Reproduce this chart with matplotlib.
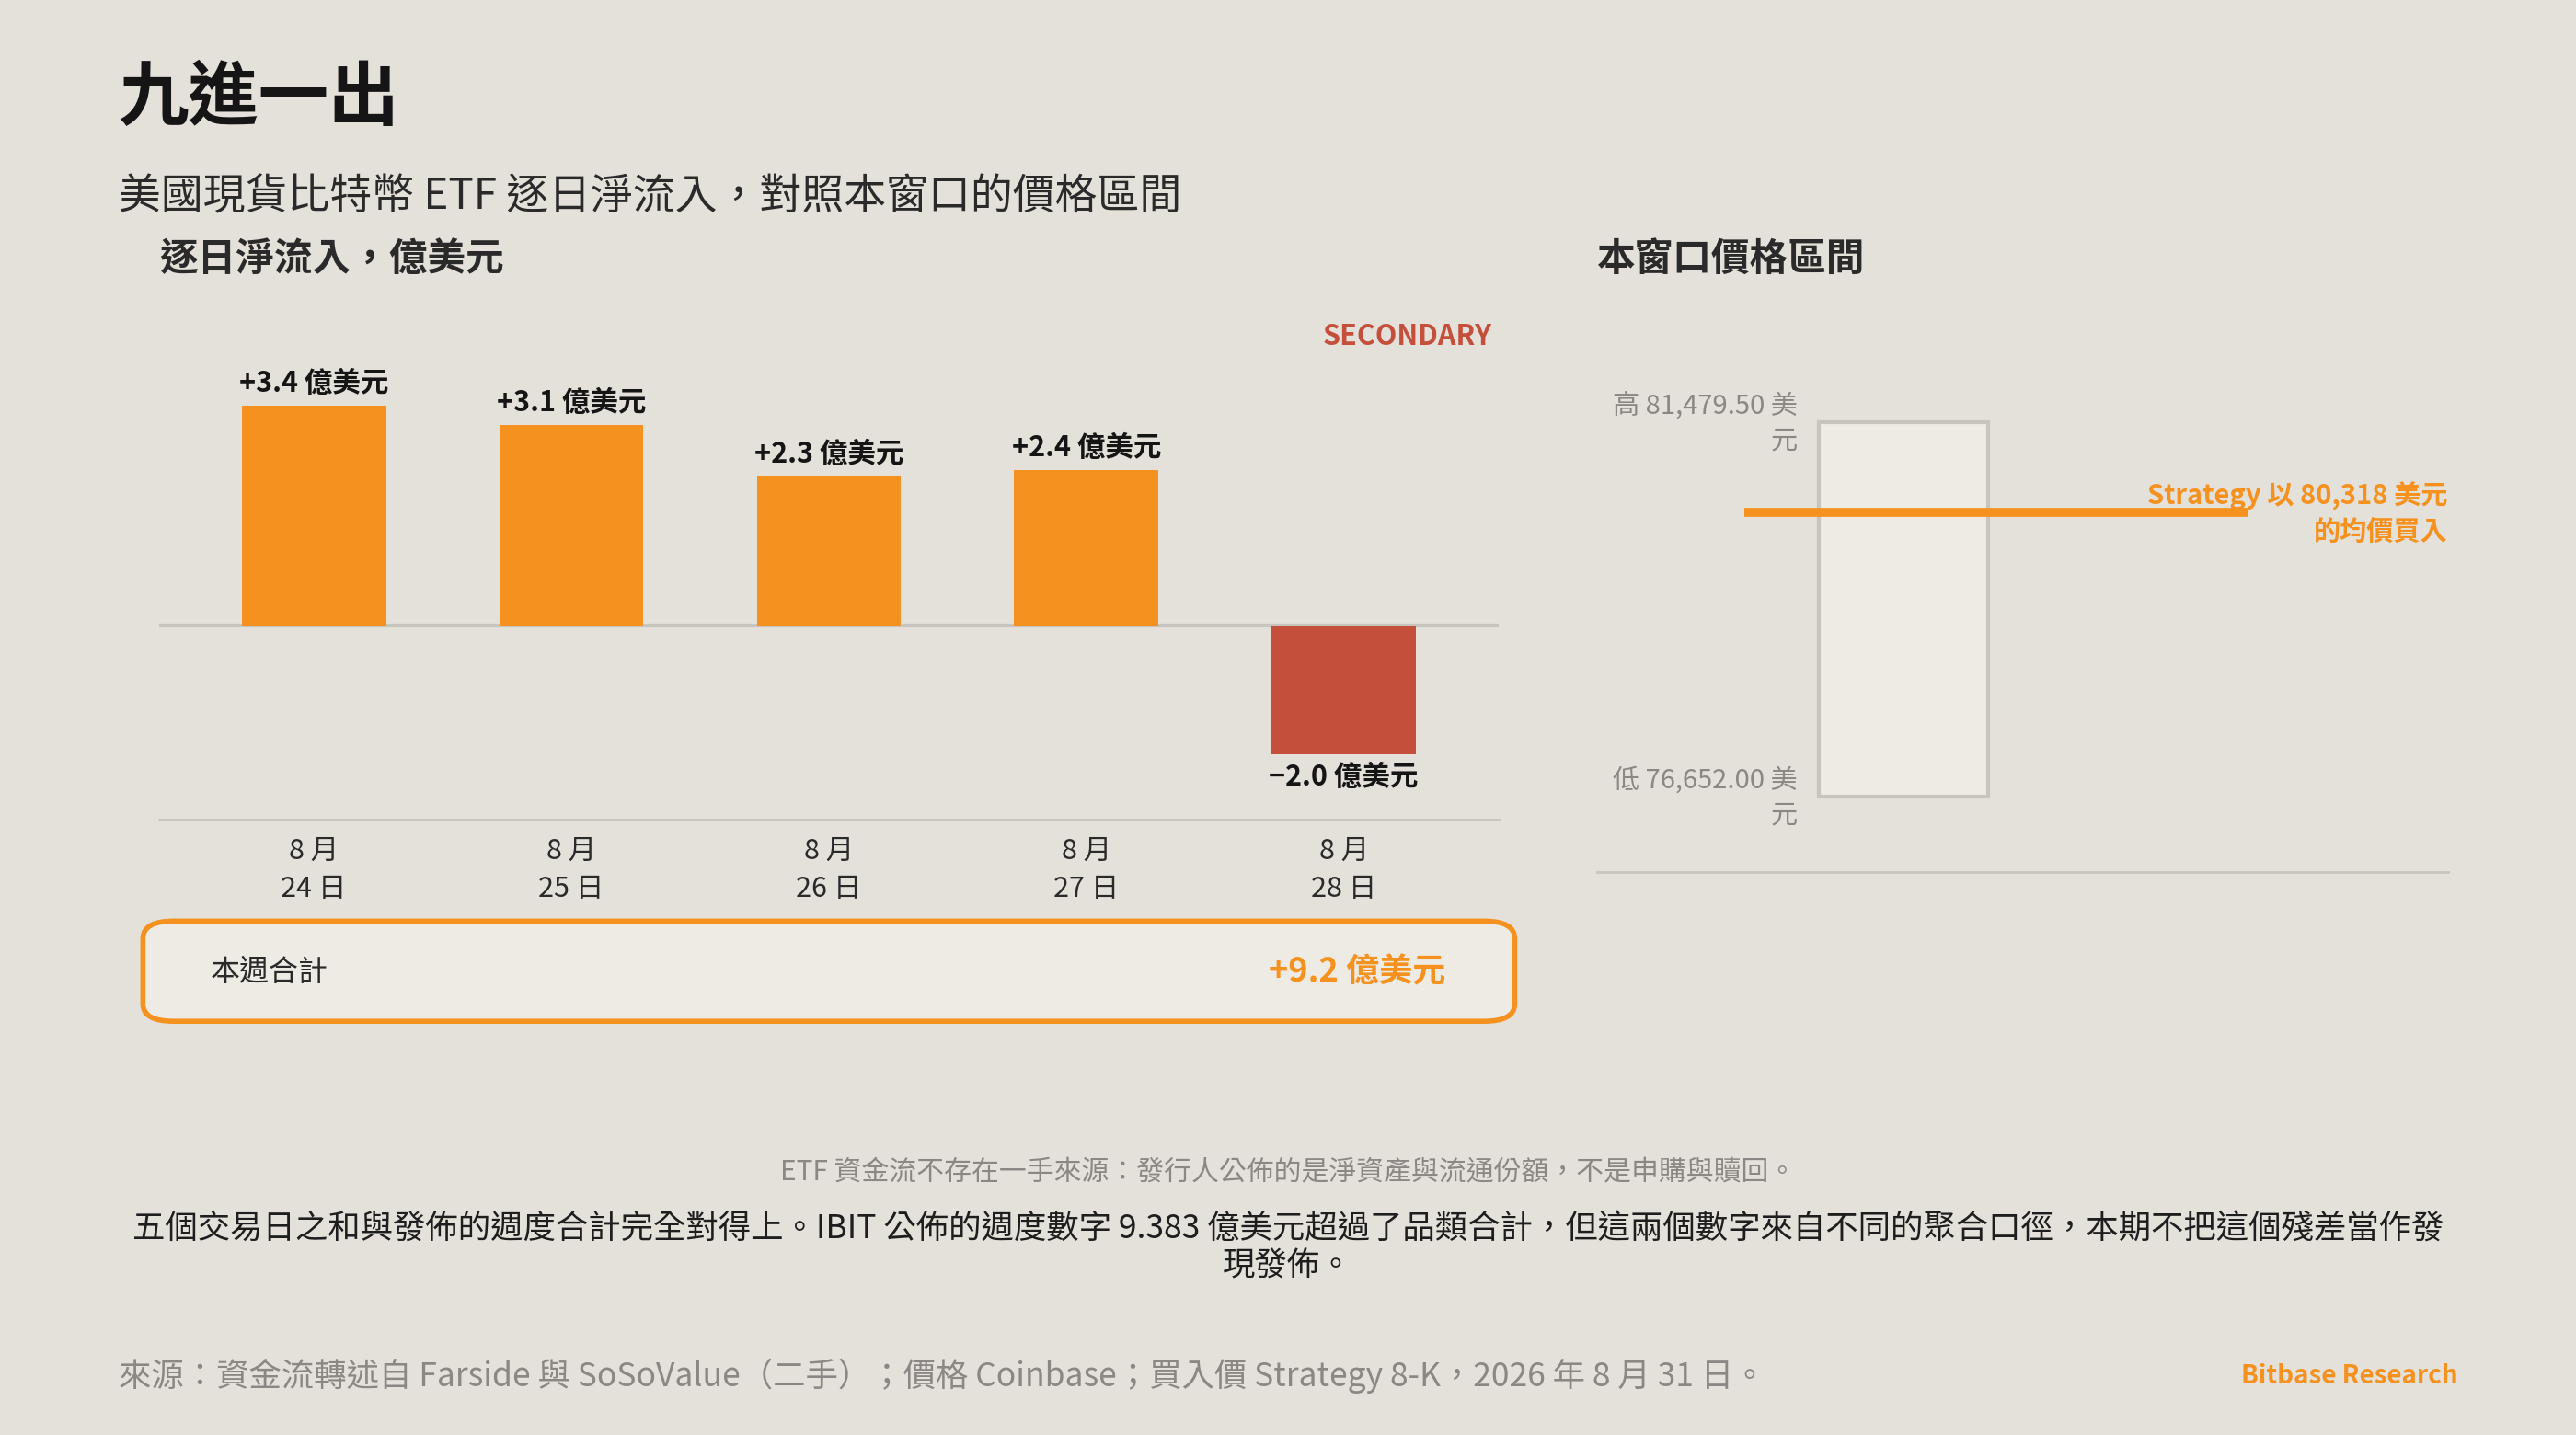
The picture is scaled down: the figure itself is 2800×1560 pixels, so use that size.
import matplotlib.pyplot as plt
from matplotlib.patches import FancyBboxPatch, Rectangle

plt.rcParams['font.family'] = ['Noto Sans CJK TC', 'DejaVu Sans']

# data
days = ['8 月\n24 日', '8 月\n25 日', '8 月\n26 日', '8 月\n27 日', '8 月\n28 日']
flows = [3.4, 3.1, 2.3, 2.4, -2.0]
week_total = 9.2
price_high = 81479.50
price_low = 76652.00
strategy_avg = 80318

BG = '#e4e0da'
ORANGE = '#f5911e'
RED = '#c4503c'
GRID = '#c8c4be'
W, H = 1568, 874  # layout reference units


def fx(x):
    return x / W


def fy(y):
    return 1 - y / H


fig = plt.figure(figsize=(28, 15.6), dpi=100, facecolor=BG)

fig.text(fx(72), fy(60), '九進一出', fontsize=55, fontweight='bold', color='#151515', va='center')
fig.text(fx(72), fy(120), '美國現貨比特幣 ETF 逐日淨流入，對照本窗口的價格區間', fontsize=33, color='#2a2a2a', va='center')
fig.text(fx(97), fy(158), '逐日淨流入，億美元', fontsize=30, fontweight='bold', color='#2a2a2a', va='center')
fig.text(fx(972), fy(158), '本窗口價格區間', fontsize=30, fontweight='bold', color='#2a2a2a', va='center')
fig.text(fx(908), fy(205), 'SECONDARY', fontsize=22, fontweight='bold', color=RED, ha='right', va='center')

# flows chart
ax = fig.add_axes([fx(97), fy(499), fx(912 - 97), (499 - 200) / H])
ax.set_facecolor('none')
xs = list(range(len(flows)))
colors = [ORANGE if v >= 0 else RED for v in flows]
ax.bar(xs, flows, width=0.56, color=colors, zorder=3)
ax.axhline(0, color=GRID, lw=3, zorder=2)
for x, v in zip(xs, flows):
    lab = f'{v:+.1f} 億美元'.replace('-', '−')
    if v >= 0:
        ax.text(x, v + 0.12, lab, ha='center', va='bottom', fontsize=22, fontweight='bold', color='#151515')
    else:
        ax.text(x, v - 0.12, lab, ha='center', va='top', fontsize=22, fontweight='bold', color='#151515')
ax.set_xlim(-0.6, 4.6)
ax.set_ylim(-3.0, 4.6)
ax.set_yticks([])
ax.set_xticks(xs)
ax.set_xticklabels(days, fontsize=22, color='#2a2a2a', linespacing=1.4)
ax.tick_params(axis='x', length=0, pad=14)
for s in ['top', 'left', 'right']:
    ax.spines[s].set_visible(False)
ax.spines['bottom'].set_color(GRID)
ax.spines['bottom'].set_linewidth(2)

# weekly total box
box = FancyBboxPatch((fx(87), fy(622)), fx(922 - 87), (622 - 561) / H,
                     boxstyle='round,pad=0,rounding_size=0.012', transform=fig.transFigure,
                     facecolor='#eeebe4', edgecolor=ORANGE, lw=4)
fig.patches.append(box)
fig.text(fx(128), fy(592), '本週合計', fontsize=23, color='#2a2a2a', va='center')
fig.text(fx(880), fy(592), f'+{week_total} 億美元', fontsize=26, fontweight='bold', color=ORANGE, ha='right', va='center')

# price range panel
ax2 = fig.add_axes([fx(972), fy(531), fx(1490 - 972), (531 - 200) / H])
ax2.set_facecolor('none')
ax2.set_xlim(0, 518)
ax2.set_ylim(75678, 82686)
ax2.add_patch(Rectangle((135, price_low), 103, price_high - price_low,
                        facecolor='#eeebe4', edgecolor=GRID, lw=3, zorder=2))
ax2.plot([90, 396], [strategy_avg, strategy_avg], color=ORANGE, lw=7, zorder=3, solid_capstyle='butt')
ax2.text(122, price_high - 20, f'高 {price_high:,.2f} 美\n元', ha='right', va='center',
         fontsize=21, color='#8a8784', linespacing=1.35)
ax2.text(122, price_low - 20, f'低 {price_low:,.2f} 美\n元', ha='right', va='center',
         fontsize=21, color='#8a8784', linespacing=1.35)
ax2.text(518, strategy_avg - 20, f'Strategy 以 {strategy_avg:,} 美元\n的均價買入', ha='right', va='center',
         fontsize=21, fontweight='bold', color=ORANGE, linespacing=1.35)
ax2.set_xticks([])
ax2.set_yticks([])
for s in ['top', 'left', 'right']:
    ax2.spines[s].set_visible(False)
ax2.spines['bottom'].set_color(GRID)
ax2.spines['bottom'].set_linewidth(2)

# notes
fig.text(fx(784), fy(714), 'ETF 資金流不存在一手來源：發行人公佈的是淨資產與流通份額，不是申購與贖回。',
         fontsize=21.5, color='#8a8784', ha='center', va='center')
fig.text(fx(784), fy(760), '五個交易日之和與發佈的週度合計完全對得上。IBIT 公佈的週度數字 9.383 億美元超過了品類合計，但這兩個數字來自不同的聚合口徑，本期不把這個殘差當作發\n現發佈。',
         fontsize=25.5, color='#1e1e1e', ha='center', va='center', linespacing=1.15)
fig.text(fx(72), fy(838), '來源：資金流轉述自 Farside 與 SoSoValue（二手）；價格 Coinbase；買入價 Strategy 8-K，2026 年 8 月 31 日。',
         fontsize=25.5, color='#8a8784', va='center')
fig.text(fx(1496), fy(838), 'Bitbase Research', fontsize=20, fontweight='bold', color=ORANGE, ha='right', va='center')

fig.savefig('out.png', dpi=100, facecolor=BG)
